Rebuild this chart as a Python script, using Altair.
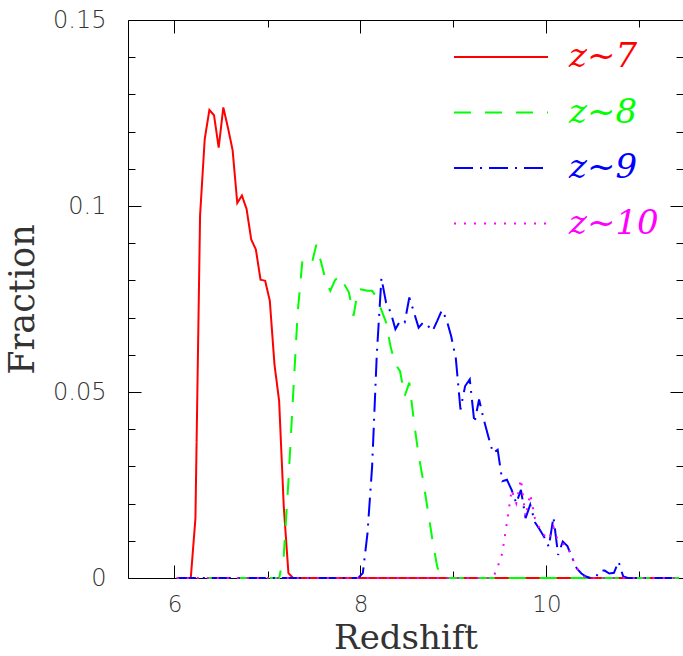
import altair as alt
import pandas as pd

# ---------------- data ----------------
bin_centers = [round(6.025 + 0.05 * i, 3) for i in range(109)]  # redshift bins 6.025 ... 11.425

z7_x = [6.175, 6.225, 6.275, 6.325, 6.375, 6.425, 6.475, 6.525, 6.575, 6.625, 6.675, 6.725,
        6.775, 6.825, 6.875, 6.925, 6.975, 7.025, 7.075, 7.125, 7.175, 7.225, 7.275]
z7_y = [0.0, 0.016, 0.0975, 0.118, 0.1258, 0.1244, 0.1157, 0.1265, 0.121, 0.115, 0.1008, 0.1028,
        0.0992, 0.091, 0.0883, 0.0802, 0.0799, 0.0745, 0.0574, 0.0476, 0.0192, 0.0013, 0.0]

z8_x = [7.125, 7.175, 7.225, 7.275, 7.325, 7.375, 7.425, 7.475, 7.525, 7.575, 7.625, 7.675,
        7.725, 7.775, 7.825, 7.875, 7.925, 7.975, 8.025, 8.075, 8.125, 8.175, 8.225, 8.275,
        8.325, 8.375, 8.425, 8.475, 8.525, 8.575, 8.625, 8.675, 8.725, 8.775, 8.825, 8.875]
z8_y = [0.0, 0.006, 0.026, 0.049, 0.0715, 0.0853, 0.085, 0.0844, 0.0896, 0.085, 0.080, 0.0772,
        0.080, 0.0813, 0.079, 0.0768, 0.0705, 0.0777, 0.0775, 0.0772, 0.0772, 0.0754, 0.072, 0.0687,
        0.062, 0.0575, 0.0556, 0.0489, 0.0525, 0.042, 0.033, 0.026, 0.018, 0.010, 0.003, 0.0]

z9_x = [7.975, 8.025, 8.075, 8.125, 8.175, 8.225, 8.275, 8.325, 8.375, 8.425, 8.475, 8.525,
        8.575, 8.625, 8.675, 8.725, 8.775, 8.825, 8.875, 8.925, 8.975, 9.025, 9.075, 9.125,
        9.175, 9.225, 9.275, 9.325, 9.375, 9.425, 9.475, 9.525, 9.575, 9.625, 9.675, 9.725,
        9.775, 9.825, 9.875, 9.925, 9.975, 10.025, 10.075, 10.125, 10.175, 10.225, 10.275, 10.325,
        10.375, 10.425, 10.475, 10.525, 10.575, 10.625, 10.675, 10.725, 10.775, 10.825, 10.875]
z9_y = [0.0, 0.0013, 0.012, 0.030, 0.060, 0.0806, 0.074, 0.0714, 0.0669, 0.0691, 0.0687, 0.0754,
        0.0714, 0.0673, 0.0687, 0.0678, 0.0664, 0.0691, 0.072, 0.0695, 0.065, 0.059, 0.0453, 0.0516,
        0.0534, 0.0417, 0.048, 0.0426, 0.038, 0.0336, 0.0345, 0.026, 0.0264, 0.0237, 0.0201, 0.0237,
        0.0161, 0.0197, 0.015, 0.0131, 0.011, 0.0084, 0.0164, 0.0062, 0.0098, 0.0086, 0.0055, 0.0026,
        0.0012, 0.0004, 0.0, 0.0, 0.002, 0.002, 0.0012, 0.0014, 0.0044, 0.0004, 0.0]

z10_x = [9.425, 9.475, 9.525, 9.575, 9.625, 9.675, 9.725, 9.775, 9.825, 9.875, 9.925, 9.975,
         10.025, 10.075, 10.125, 10.175, 10.225, 10.275, 10.325, 10.375, 10.425]
z10_y = [0.0, 0.003, 0.0067, 0.015, 0.0237, 0.0201, 0.0266, 0.0165, 0.0226, 0.016, 0.0134, 0.0115,
         0.0104, 0.0137, 0.0098, 0.0092, 0.0086, 0.0055, 0.0027, 0.001, 0.0]

series_names = ["z~7", "z~8", "z~9", "z~10"]
series_colors = ["#ff0000", "#00ff00", "#0000ff", "#ff00ff"]
series_dashes = [[1, 0], [17, 14], [19, 7, 2, 7], [2, 8]]

x_major = [6, 8, 10]
x_minor = [7, 9, 11]
y_major = [0, 0.05, 0.1, 0.15]
y_minor = [0.01, 0.02, 0.03, 0.04, 0.06, 0.07, 0.08, 0.09, 0.11, 0.12, 0.13, 0.14]

# ---------------- table ----------------
rows = []
for name, xs, ys in zip(series_names, [z7_x, z8_x, z9_x, z10_x], [z7_y, z8_y, z9_y, z10_y]):
    lookup = dict(zip(xs, ys))
    for b in bin_centers:
        rows.append({"z": b, "frac": lookup.get(b, 0.0), "series": name})
df = pd.DataFrame(rows)

W, H = 555, 558
xscale = alt.Scale(domain=[5.5, 5.5 + W / 93.0], nice=False, zero=False)
yscale = alt.Scale(domain=[0, 0.15], nice=False, zero=False)

label_font = "DejaVu Sans"
title_font = "DejaVu Serif"
ink = "#333333"

legend = alt.Legend(
    title=None, orient="none", legendX=356, legendY=20,
    symbolType="M-4,0L4,0", symbolSize=552, symbolStrokeWidth=2,
    labelFont=title_font, labelFontStyle="italic", labelFontSize=34,
    labelOffset=51, rowPadding=21.5, padding=0,
    labelColor=alt.ExprRef(expr="datum.label == 'z~7' ? '#ff0000' : datum.label == 'z~8' ? '#00ff00' : datum.label == 'z~9' ? '#0000ff' : '#ff00ff'"),
)

lines = alt.Chart(df).mark_line(strokeWidth=2).encode(
    x=alt.X("z:Q", scale=xscale, axis=alt.Axis(
        orient="bottom", values=x_major, format="d", ticks=False, domain=False, grid=False,
        labelFont=label_font, labelFontSize=23, labelFontWeight=200, labelColor=ink, labelPadding=15,
        title="Redshift", titleFont=title_font, titleFontSize=34, titleFontWeight="normal",
        titleColor=ink, titleY=70, titleBaseline="alphabetic")),
    y=alt.Y("frac:Q", scale=yscale, axis=alt.Axis(
        orient="left", values=y_major, labelExpr="format(datum.value, '.2~f')",
        ticks=False, domain=False, grid=False,
        labelFont=label_font, labelFontSize=24, labelFontWeight=200, labelColor=ink, labelPadding=22,
        title="Fraction", titleFont=title_font, titleFontSize=35, titleFontWeight="normal",
        titleColor=ink, titleX=-95, titleY=H / 2, titleAngle=270, titleBaseline="alphabetic")),
    color=alt.Color("series:N", scale=alt.Scale(domain=series_names, range=series_colors), legend=legend),
    strokeDash=alt.StrokeDash("series:N", scale=alt.Scale(domain=series_names, range=series_dashes), legend=legend),
    detail="series:N",
)


def tick_layer(xvals, xorient, yvals, yorient, size, frame):
    inward = alt.ExprRef(expr=str(-size))
    common = dict(labels=False, grid=False, ticks=True, tickSize=inward, tickColor="black",
                  tickWidth=1, title=None, domain=frame, domainColor="black", domainWidth=1, zindex=0)
    return alt.Chart(df).mark_point(opacity=0).encode(
        x=alt.X("z:Q", scale=xscale, axis=alt.Axis(orient=xorient, values=xvals, **common)),
        y=alt.Y("frac:Q", scale=yscale, axis=alt.Axis(orient=yorient, values=yvals, **common)),
    )


chart = alt.layer(
    lines,
    tick_layer(x_major, "bottom", y_major, "left", 13, True),
    tick_layer(x_minor, "bottom", y_minor, "left", 7, False),
    tick_layer(x_major, "top", y_major, "right", 13, True),
    tick_layer(x_minor, "top", y_minor, "right", 7, False),
).resolve_axis(x="independent", y="independent").properties(
    width=W, height=H,
    autosize=alt.AutoSizeParams(type="none"),
    padding={"left": 128, "top": 20, "right": 0, "bottom": 78},
    background="white",
).configure_view(stroke=None)

chart.save("out.html", embed_options={"renderer": "svg", "actions": False})
